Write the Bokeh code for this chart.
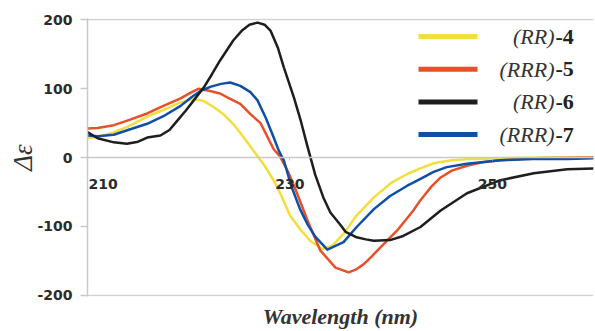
import math
from bokeh.plotting import figure
from bokeh.models import Range1d, FixedTicker, Label, BoxAnnotation, LinearAxis
from bokeh.core.properties import value
from bokeh.embed import file_html
from bokeh.resources import INLINE

# ---------------- data ----------------
wl_4 = [210, 211, 212.5, 214, 216, 217.5, 219, 220.5, 221.5, 222.5, 223.5, 224.5, 225.5, 226.5,
        227.5, 228.5, 229.2, 230, 231, 232, 233.2, 234.2, 235.3, 236.6, 238.3, 240, 241.6, 243,
        244.3, 246, 248, 251, 255, 260]
cd_4 = [28, 30, 36, 45, 60, 69, 79, 85, 82, 73, 62, 47, 28, 8,
        -12, -36, -57, -84, -104, -121, -133, -128, -111, -84, -58, -37, -24, -15,
        -8, -4, -2, -1, 0, 0]

wl_5 = [210, 211, 212.6, 214, 215.9, 217.5, 219.2, 220.3, 221, 222, 223.1, 224, 225.1, 226.1,
        227.1, 228.4, 229, 229.8, 230.6, 231.7, 233, 234.5, 235.8, 236.5, 237.3, 238, 239, 240.6,
        242.2, 242.9, 244, 244.9, 246, 247.5, 249, 250.8, 254, 260]
cd_5 = [42, 43, 47, 54, 64, 75, 86, 95, 100, 97, 93, 86, 78, 63,
        50, 12, 2, -20, -48, -90, -135, -160, -167, -163, -155, -145, -130, -106,
        -77, -62, -42, -29, -19, -12, -7, -4, -1, 0]

wl_6 = [210, 211, 212.6, 213.9, 215, 215.9, 217.2, 218.1, 218.9, 219.7, 220.5, 221.5, 222.3,
        223.1, 224.4, 225.3, 226, 226.8, 227.5, 228.1, 228.8, 229.4, 230.4, 231.1, 231.7, 232.5,
        233.3, 234, 235, 235.5, 236.6, 237.5, 238.3, 239.9, 241.2, 242.9, 244.9, 247.5, 250.8,
        254.1, 257.4, 260]
cd_6 = [37, 28, 22, 20, 23, 29, 32, 40, 54, 68, 83, 102, 121,
        141, 170, 185, 193, 196, 193, 184, 160, 131, 87, 52, 18, -25,
        -58, -80, -98, -108, -116, -119, -121, -120, -114, -101, -77, -52, -33,
        -23, -17, -16]

wl_7 = [210, 211, 212.6, 214, 215.9, 217.5, 219.2, 220.3, 221.2, 222.2, 223.2, 224.1, 225.1,
        226.1, 226.8, 227.6, 228.4, 228.9, 229.4, 230.1, 231, 231.7, 232.5, 233.7, 235.3, 236.6,
        238.3, 239.9, 241.6, 242.9, 244.2, 245.5, 247.5, 250.8, 254, 257.4, 260]
cd_7 = [32, 31, 33, 40, 49, 60, 75, 88, 97, 103, 107, 109, 104,
        95, 83, 58, 29, 10, -4, -40, -75, -96, -115, -134, -123, -101,
        -75, -56, -41, -31, -21, -14, -9, -4, -2, -2, -1]

series_names = ["(RR)", "(RRR)", "(RR)", "(RRR)"]
series_nums = ["-4", "-5", "-6", "-7"]
series_colors = ["#f3de3c", "#e8502a", "#1e1e1e", "#0f4fa6"]

x_ticks = [210, 230, 250]
x_tick_labels = ["210", "230", "250"]
y_ticks = [-200, -100, 0, 100, 200]
y_tick_labels = ["-200", "-100", "0", "100", "200"]
y_grid = [-200, 200]
x_title = "Wavelength (nm)"
y_title = "\u0394\u03b5"

# ---------------- figure ----------------
p = figure(width=595, height=331, output_backend="svg", toolbar_location=None,
           x_axis_location="above",
           x_range=Range1d(210, 260), y_range=Range1d(-202, 202),
           min_border_left=87, min_border_right=2, min_border_top=18, min_border_bottom=34)
p.outline_line_color = None
p.background_fill_color = "white"
p.border_fill_color = "white"

AX_COL = "#c9c9c9"
TXT_COL = "#2b2b2b"
TICK_FONT = "DejaVu Sans"
TICK_SIZE = "14px"

p.xgrid.visible = False
p.ygrid.ticker = FixedTicker(ticks=y_grid)
p.ygrid.grid_line_color = "#d2d2d2"
p.ygrid.grid_line_width = 1.5

p.yaxis.ticker = FixedTicker(ticks=y_ticks)
p.yaxis.major_label_overrides = dict(zip(y_ticks, y_tick_labels))
p.yaxis.axis_line_color = AX_COL
p.yaxis.axis_line_width = 1.5
p.yaxis.major_tick_line_color = AX_COL
p.yaxis.major_tick_line_width = 1.5
p.yaxis.major_tick_out = 7
p.yaxis.major_tick_in = 0
p.yaxis.minor_tick_line_color = None
p.yaxis.major_label_text_font = TICK_FONT
p.yaxis.major_label_text_font_style = "bold"
p.yaxis.major_label_text_font_size = TICK_SIZE
p.yaxis.major_label_text_color = TXT_COL
p.yaxis.major_label_standoff = 8
p.yaxis.axis_label = y_title
p.yaxis.axis_label_text_font = "Liberation Serif"
p.yaxis.axis_label_text_font_style = "italic"
p.yaxis.axis_label_text_font_size = "27px"
p.yaxis.axis_label_text_color = "#333333"
p.yaxis.axis_label_standoff = -4

# x axis drawn on the zero line, labels pushed below it
xa = p.xaxis[0]
xa.fixed_location = 0
xa.ticker = FixedTicker(ticks=x_ticks)
xa.major_label_overrides = {x_ticks[0]: ""}
xa.axis_line_color = AX_COL
xa.axis_line_width = 1.5
xa.major_tick_line_color = AX_COL
xa.major_tick_in = 3
xa.major_tick_out = 0
xa.minor_tick_line_color = None
xa.major_label_text_font = TICK_FONT
xa.major_label_text_font_style = "bold"
xa.major_label_text_font_size = TICK_SIZE
xa.major_label_text_color = TXT_COL
xa.major_label_standoff = -31

# first tick label sits at the frame edge: draw it left-aligned so it stays whole
p.text(x=x_ticks[:1], y=[0], text=x_tick_labels[:1], text_align="left",
       text_baseline="middle", x_offset=1, y_offset=26,
       text_font=value(TICK_FONT), text_font_style="bold",
       text_font_size=TICK_SIZE, text_color=TXT_COL)

# axis carrying only the x title
tx = LinearAxis(axis_label=x_title, ticker=FixedTicker(ticks=[]),
                axis_line_color=None, major_tick_line_color=None,
                minor_tick_line_color=None, major_label_standoff=0,
                axis_label_standoff=7,
                axis_label_text_font="Liberation Serif",
                axis_label_text_font_style="bold italic",
                axis_label_text_font_size="22px",
                axis_label_text_color="#333333")
p.add_layout(tx, "below")

# curves
for wl, cd, col in [(wl_4, cd_4, series_colors[0]), (wl_5, cd_5, series_colors[1]),
                    (wl_7, cd_7, series_colors[3]), (wl_6, cd_6, series_colors[2])]:
    p.line(wl, cd, line_color=col, line_width=2.5, line_join="round")

# legend (screen units relative to the plot frame)
LEG_X0, LEG_X1 = 331, 390
LEG_TEXT_X = 468
LEG_Y0, LEG_DY = 260, 32.7
for i in range(4):
    yy = LEG_Y0 - i * LEG_DY
    p.add_layout(BoxAnnotation(left=LEG_X0, right=LEG_X1, bottom=yy - 2.5, top=yy + 2.5,
                               left_units="screen", right_units="screen",
                               bottom_units="screen", top_units="screen",
                               fill_color=series_colors[i], fill_alpha=1.0,
                               line_color=None))
    p.add_layout(Label(x=LEG_TEXT_X - 1, y=yy, x_units="screen", y_units="screen",
                       text=series_names[i], text_align="right", text_baseline="middle",
                       text_font="Liberation Serif", text_font_style="italic",
                       text_font_size="22px", text_color="#333333"))
    p.add_layout(Label(x=LEG_TEXT_X, y=yy, x_units="screen", y_units="screen",
                       text=series_nums[i], text_align="left", text_baseline="middle",
                       text_font="Liberation Serif", text_font_style="bold",
                       text_font_size="22px", text_color="#222222"))

open("out.html", "w").write(file_html(p, INLINE))
